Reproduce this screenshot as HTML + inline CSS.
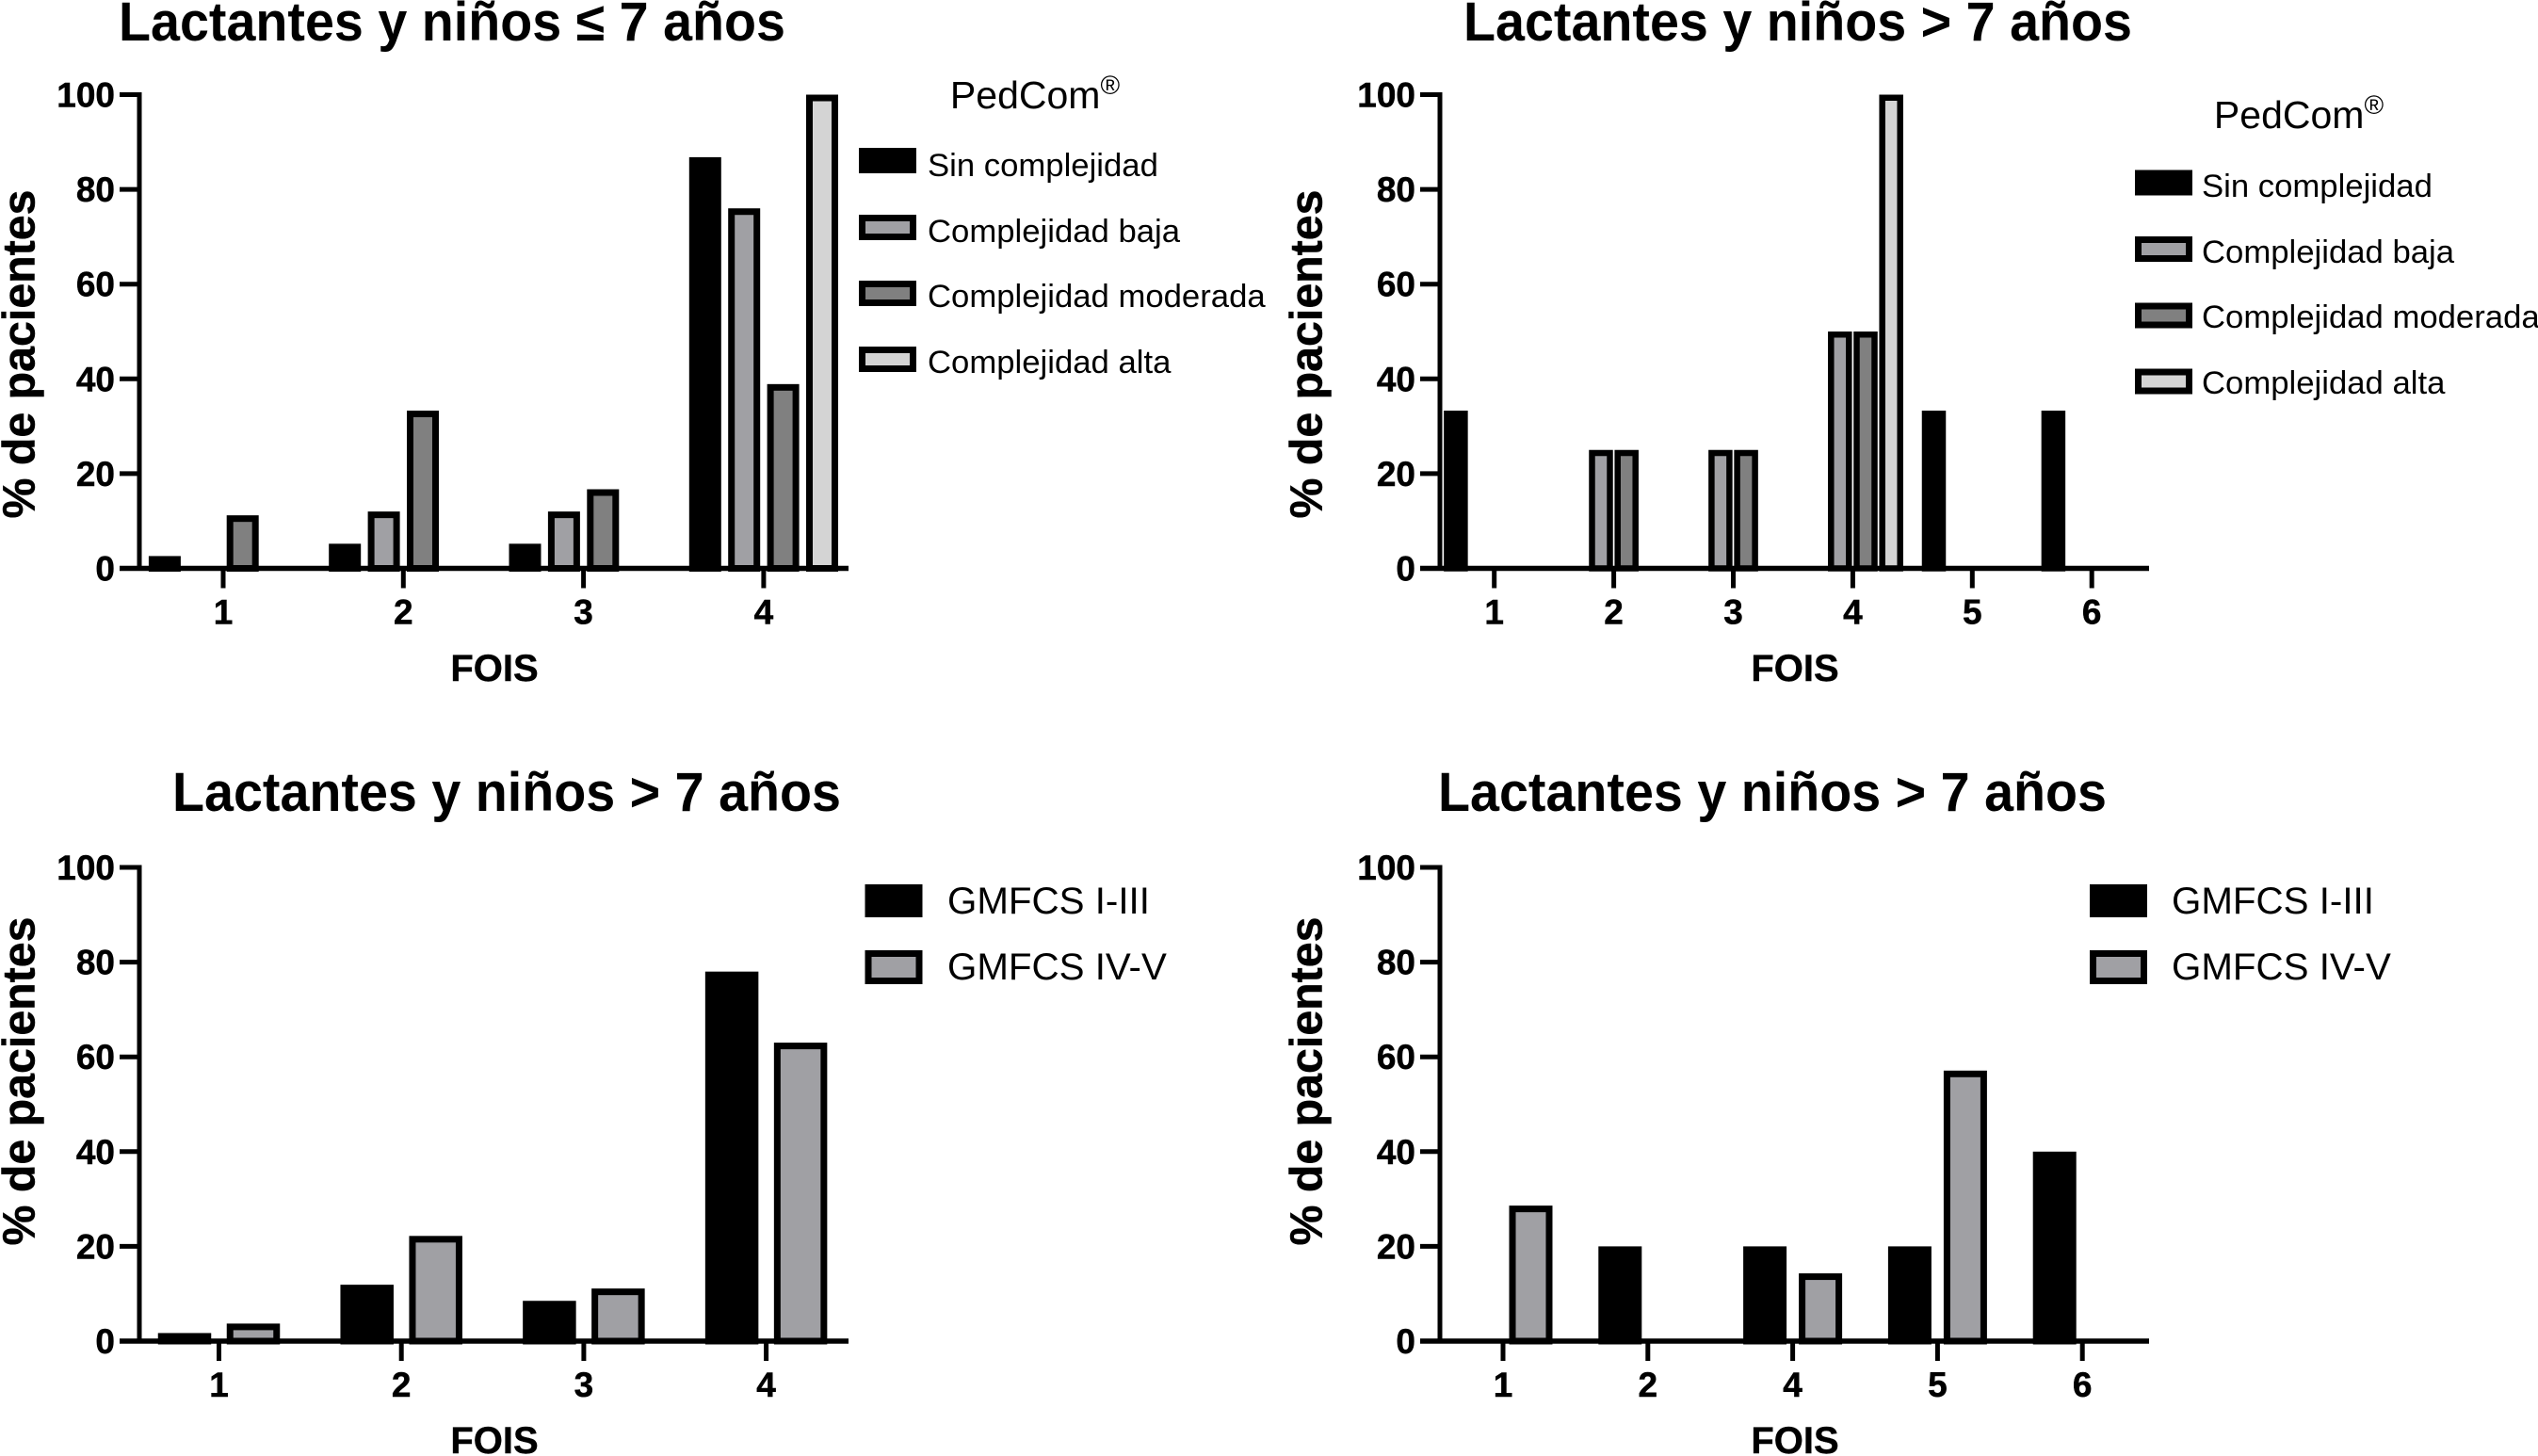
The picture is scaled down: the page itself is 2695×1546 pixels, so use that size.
<!DOCTYPE html>
<html lang="es">
<head>
<meta charset="utf-8">
<title>Lactantes y niños: FOIS por complejidad y GMFCS</title>
<style>
html,body{margin:0;padding:0;background:#fff;}
svg{display:block;}
text{font-family:"Liberation Sans",Arial,sans-serif;fill:#000;}
.title{font-size:58px;font-weight:bold;text-anchor:middle;}
.ytitle{font-size:48.3px;font-weight:bold;text-anchor:middle;stroke:#000;stroke-width:0.5px;}
.xtitle{font-size:40px;font-weight:bold;text-anchor:middle;stroke:#000;stroke-width:0.4px;}
.tick{font-size:37px;font-weight:bold;stroke:#000;stroke-width:0.5px;}
.leg{font-size:34.7px;}
.leg2{font-size:40.3px;}
.legt{font-size:41px;text-anchor:middle;}
</style>
</head>
<body>
<svg id="figure" xmlns="http://www.w3.org/2000/svg" width="2695" height="1546" viewBox="0 0 2695 1546">
<rect width="2695" height="1546" fill="#fff"/>

<g id="panel-a">
  <text class="title" x="480" y="43" textLength="708" lengthAdjust="spacingAndGlyphs">Lactantes y niños ≤ 7 años</text>
  <text class="ytitle" transform="translate(36.5,376) rotate(-90)">% de pacientes</text>
  <text class="xtitle" x="525" y="723">FOIS</text>
  <g>
    <text class="legt" x="1099" y="115">PedCom<tspan font-size="28" dy="-15">®</tspan></text>
    <rect x="915.5" y="160.5" width="54" height="20" fill="#000" stroke="#000" stroke-width="7"/>
    <text class="leg" x="985" y="187">Sin complejidad</text>
    <rect x="915.5" y="231.5" width="54" height="20" fill="#a0a0a4" stroke="#000" stroke-width="7"/>
    <text class="leg" x="985" y="257">Complejidad baja</text>
    <rect x="915.5" y="301.5" width="54" height="20" fill="#808080" stroke="#000" stroke-width="7"/>
    <text class="leg" x="985" y="326">Complejidad moderada</text>
    <rect x="915.5" y="371.5" width="54" height="20" fill="#d4d4d4" stroke="#000" stroke-width="7"/>
    <text class="leg" x="985" y="396">Complejidad alta</text>
  </g>
</g>

<g id="panel-b">
  <text class="title" x="1909" y="43" textLength="710" lengthAdjust="spacingAndGlyphs">Lactantes y niños &gt; 7 años</text>
  <text class="ytitle" transform="translate(1403.5,376) rotate(-90)">% de pacientes</text>
  <text class="xtitle" x="1906" y="723">FOIS</text>
  <g>
    <text class="legt" x="2441" y="136">PedCom<tspan font-size="28" dy="-15">®</tspan></text>
    <rect x="2270.5" y="184" width="54" height="20" fill="#000" stroke="#000" stroke-width="7"/>
    <text class="leg" x="2338" y="209">Sin complejidad</text>
    <rect x="2270.5" y="254.5" width="54" height="20" fill="#a0a0a4" stroke="#000" stroke-width="7"/>
    <text class="leg" x="2338" y="279">Complejidad baja</text>
    <rect x="2270.5" y="325" width="54" height="20" fill="#808080" stroke="#000" stroke-width="7"/>
    <text class="leg" x="2338" y="348">Complejidad moderada</text>
    <rect x="2270.5" y="395" width="54" height="20" fill="#d4d4d4" stroke="#000" stroke-width="7"/>
    <text class="leg" x="2338" y="418">Complejidad alta</text>
  </g>
</g>

<g id="panel-c">
  <text class="title" x="538" y="861" textLength="710" lengthAdjust="spacingAndGlyphs">Lactantes y niños &gt; 7 años</text>
  <text class="ytitle" transform="translate(36.5,1148) rotate(-90)">% de pacientes</text>
  <text class="xtitle" x="525" y="1543">FOIS</text>
  <g>
    <rect x="922" y="942.5" width="54" height="28" fill="#000" stroke="#000" stroke-width="7"/>
    <text class="leg2" x="1006" y="970">GMFCS I-III</text>
    <rect x="922" y="1012.5" width="54" height="29" fill="#a0a0a4" stroke="#000" stroke-width="7"/>
    <text class="leg2" x="1006" y="1040">GMFCS IV-V</text>
  </g>
</g>

<g id="panel-d">
  <text class="title" x="1882" y="861" textLength="710" lengthAdjust="spacingAndGlyphs">Lactantes y niños &gt; 7 años</text>
  <text class="ytitle" transform="translate(1403.5,1148) rotate(-90)">% de pacientes</text>
  <text class="xtitle" x="1906" y="1543">FOIS</text>
  <g>
    <rect x="2222.5" y="942.5" width="54" height="28" fill="#000" stroke="#000" stroke-width="7"/>
    <text class="leg2" x="2306" y="970">GMFCS I-III</text>
    <rect x="2222.5" y="1012.5" width="54" height="29" fill="#a0a0a4" stroke="#000" stroke-width="7"/>
    <text class="leg2" x="2306" y="1040">GMFCS IV-V</text>
  </g>
</g>
</svg>

<script>
// Shared tick labels
const yTicks = [0, 20, 40, 60, 80, 100];

// Panel A: PedCom, <= 7 years
const catsA = ["1", "2", "3", "4"];
const sinA = [2.6, 5.2, 5.2, 86.8];
const bajaA = [0, 12, 12, 76];
const modA = [11.2, 33.3, 16.7, 38.9];
const altaA = [0, 0, 0, 100];

// Panel B: PedCom, > 7 years
const catsB = ["1", "2", "3", "4", "5", "6"];
const sinB = [33.3, 0, 0, 0, 33.3, 33.3];
const bajaB = [0, 25, 25, 50, 0, 0];
const modB = [0, 25, 25, 50, 0, 0];
const altaB = [0, 0, 0, 100, 0, 0];

// Panel C: GMFCS
const catsC = ["1", "2", "3", "4"];
const g13C = [1.7, 11.9, 8.5, 78];
const g45C = [3.7, 22.2, 11.1, 63];

// Panel D: GMFCS
const catsD = ["1", "2", "4", "5", "6"];
const g13D = [0, 20, 20, 20, 40];
const g45D = [28.6, 0, 14.3, 57.1, 0];

const BLACK = "#000000", BAJA = "#a0a0a4", MOD = "#808080", ALTA = "#d4d4d4";
const NS = "http://www.w3.org/2000/svg";

function mk(tag, attrs, parent) {
  const el = document.createElementNS(NS, tag);
  for (const k in attrs) el.setAttribute(k, attrs[k]);
  parent.appendChild(el);
  return el;
}

function drawPanel(id, cats, series, layout) {
  const root = document.getElementById(id);
  const yScale = v => layout.y0 - (v / 100) * (layout.y0 - layout.y100);
  const xScale = i => layout.x1 + i * layout.step;

  // bars
  const marks = mk("g", {}, root);
  
  
  series.forEach((s, si) => {
    s.values.forEach((v, i) => {
      if (v <= 0) return;
      const offset = (si - (series.length - 1) / 2) * layout.pitch;
      const left = xScale(i) + offset - layout.barW / 2;
      const top = yScale(v);
      const sw = layout.sw;
      const bar = mk("rect", {
        x: left + sw / 2,
        y: top + sw / 2,
        width: layout.barW - sw,
        height: Math.max(layout.y0 - top - sw / 2, 0.1),
        fill: s.fill,
        stroke: "#000",
        "stroke-width": sw
      }, marks);
      
      
    });
  });

  // axes
  const yAxis = mk("line", {x1: layout.axisX, x2: layout.axisX, y1: layout.y100 - 2.5, y2: layout.y0 + 2.5, stroke: "#000", "stroke-width": 5}, root);
  
  
  const xAxis = mk("line", {x1: layout.axisX - 21, x2: layout.axisRight, y1: layout.y0, y2: layout.y0, stroke: "#000", "stroke-width": 5.5}, root);
  
  

  yTicks.forEach(t => {
    const y = yScale(t);
    const tk = mk("line", {x1: layout.axisX - 21, x2: layout.axisX, y1: y, y2: y, stroke: "#000", "stroke-width": 5}, root);
    
    
    const lb = mk("text", {class: "tick", x: layout.axisX - 26, y: y + 13, "text-anchor": "end"}, root);
    lb.textContent = t;
    
    
  });

  cats.forEach((c, i) => {
    const x = xScale(i);
    const tk = mk("line", {x1: x, x2: x, y1: layout.y0, y2: layout.y0 + 21, stroke: "#000", "stroke-width": 5}, root);
    
    
    const lb = mk("text", {class: "tick", x: x, y: layout.y0 + 59, "text-anchor": "middle"}, root);
    lb.textContent = c;
    
    
  });
}

drawPanel("panel-a", catsA,
  [{values: sinA, fill: BLACK}, {values: bajaA, fill: BAJA}, {values: modA, fill: MOD}, {values: altaA, fill: ALTA}],
  {axisX: 148, axisRight: 901, y0: 603.5, y100: 100.5, x1: 237, step: 191.3, pitch: 41.4, barW: 34, sw: 7});

drawPanel("panel-b", catsB,
  [{values: sinB, fill: BLACK}, {values: bajaB, fill: BAJA}, {values: modB, fill: MOD}, {values: altaB, fill: ALTA}],
  {axisX: 1529, axisRight: 2282, y0: 603.5, y100: 100.5, x1: 1586.7, step: 126.9, pitch: 27.2, barW: 25.5, sw: 6.5});

drawPanel("panel-c", catsC,
  [{values: g13C, fill: BLACK}, {values: g45C, fill: BAJA}],
  {axisX: 148, axisRight: 901, y0: 1424, y100: 921, x1: 232.5, step: 193.7, pitch: 73, barW: 56.5, sw: 7});

drawPanel("panel-d", catsD,
  [{values: g13D, fill: BLACK}, {values: g45D, fill: BAJA}],
  {axisX: 1529, axisRight: 2282, y0: 1424, y100: 921, x1: 1596, step: 153.8, pitch: 59, barW: 46, sw: 7});
</script>
</body>
</html>
